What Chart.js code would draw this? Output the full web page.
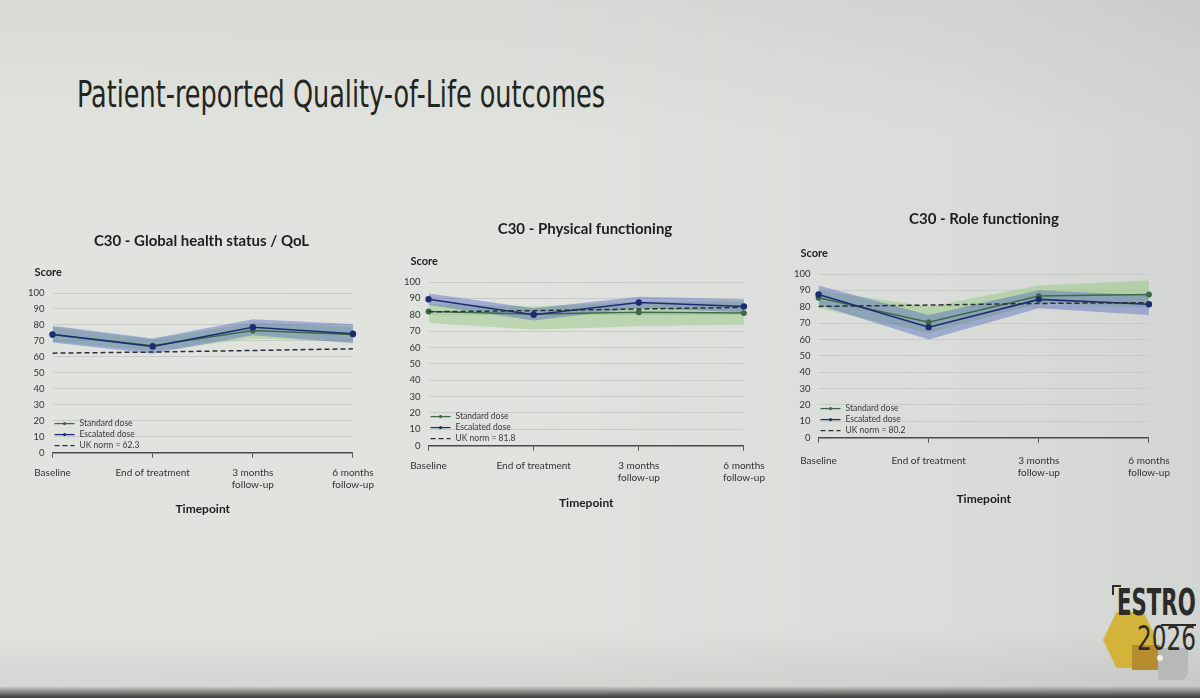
<!DOCTYPE html>
<html>
<head>
<meta charset="utf-8">
<script src="https://cdn.jsdelivr.net/npm/chart.js@4.4.1/dist/chart.umd.min.js"></script>
<style>
  html, body { margin: 0; padding: 0; }
  body {
    width: 1200px; height: 698px; overflow: hidden; position: relative;
    background: linear-gradient(90deg, #e1e3df 0%, #e0e2de 45%, #d9dcd8 80%, #d2d5d1 100%);
  }
  #shade { position: absolute; left: 0; top: 0; width: 1200px; height: 698px;
    background: linear-gradient(180deg, rgba(0,0,0,0.04) 0%, rgba(0,0,0,0) 20%, rgba(0,0,0,0) 90%, rgba(0,0,0,0.05) 97%); }
  #bottomEdge { position: absolute; left: 0; top: 686px; width: 1200px; height: 12px;
    background: linear-gradient(180deg, rgba(60,60,60,0) 0%, rgba(60,60,60,0.75) 70%, rgba(40,40,40,0.9) 100%); }
  #slideTitle { position: absolute; left: 77px; top: 72px; white-space: nowrap;
    font-family: "DejaVu Sans Condensed", "Liberation Sans Narrow", sans-serif; font-size: 38px;
    color: #232521; transform-origin: left top; }
  canvas { position: absolute; }
  .logo { position: absolute; }
  #hex { left: 1103px; top: 612px; width: 54px; height: 56px; background: #d3b339;
    clip-path: polygon(25% 0, 75% 0, 100% 50%, 75% 100%, 25% 100%, 0 50%); }
  #gold { left: 1132px; top: 645px; width: 28px; height: 25px; background: #b58d2e; }
  #grey { left: 1158px; top: 648px; width: 30px; height: 32px; background: #b6b9b5;
    border-radius: 3px 3px 8px 3px; }
  #dot { left: 1157px; top: 655px; width: 6px; height: 6px; border-radius: 3px; background: #eceee9; }
  #bracket { left: 1112px; top: 585px; width: 7px; height: 8px; border-left: 2px solid #2e2e2b; border-top: 2px solid #2e2e2b; }
  #estro { left: 1117px; top: 582px; font-family: "DejaVu Sans Condensed", sans-serif; font-weight: bold;
    font-size: 38px; line-height: 40px; color: #2c2b27; transform-origin: left top; white-space: nowrap; }
  #estro span { border-bottom: 2px solid #2c2b27; }
  #year { left: 1137px; top: 620px; font-family: "DejaVu Sans Condensed", sans-serif; font-weight: 300;
    font-size: 34px; line-height: 36px; color: #2c2b27; transform-origin: left top; white-space: nowrap; }
</style>
</head>
<body>
<div id="shade"></div>
<div id="slideTitle">Patient-reported Quality-of-Life outcomes</div>

<canvas id="chartGhs" width="363" height="292" style="left:20px;top:228px"></canvas>
<canvas id="chartPf" width="378" height="300" style="left:396px;top:214px"></canvas>
<canvas id="chartRf" width="396" height="306" style="left:786px;top:204px"></canvas>

<div class="logo" id="hex"></div>
<div class="logo" id="gold"></div>
<div class="logo" id="grey"></div>
<div class="logo" id="dot"></div>
<div class="logo" id="bracket"></div>
<div class="logo" id="estro">EST<span>RO</span></div>
<div class="logo" id="year">2026</div>
<div id="bottomEdge"></div>

<script>
const timepoints = ['Baseline', 'End of treatment', ['3 months', 'follow-up'], ['6 months', 'follow-up']];
const yTickValues = [0, 10, 20, 30, 40, 50, 60, 70, 80, 90, 100];
const seriesNames = ['Standard dose', 'Escalated dose'];

// C30 - Global health status / QoL
const ghsStandard = [74, 67, 76.5, 74];
const ghsStandardLow = [69.5, 63.5, 71.5, 69.5];
const ghsStandardHigh = [78.5, 71, 81.5, 79];
const ghsEscalated = [74, 66.5, 78.5, 74.5];
const ghsEscalatedLow = [69, 62, 73.5, 68.5];
const ghsEscalatedHigh = [79.5, 71.5, 83.5, 80.5];
const ghsNorm = [62.3, 63, 64, 65];

// C30 - Physical functioning
const pfStandard = [82, 80.5, 81.5, 81];
const pfStandardLow = [75, 71, 73, 74];
const pfStandardHigh = [87, 85, 88, 88];
const pfEscalated = [89.5, 80, 87.5, 85];
const pfEscalatedLow = [86, 76.5, 84, 81.5];
const pfEscalatedHigh = [93, 84, 91, 89.5];
const pfNorm = [81.8, 82.5, 83.5, 84.5];

// C30 - Role functioning
const rfStandard = [85.5, 70.5, 86.5, 87.5];
const rfStandardLow = [79, 64, 82, 80];
const rfStandardHigh = [90, 80, 93, 96];
const rfEscalated = [87.5, 67.5, 84.5, 81.5];
const rfEscalatedLow = [81, 60, 79, 75];
const rfEscalatedHigh = [93, 75, 90, 87];
const rfNorm = [80.2, 81, 82, 82.5];

const chartTitles = ['C30 - Global health status / QoL', 'C30 - Physical functioning', 'C30 - Role functioning'];
const normLabels = ['UK norm = 62.3', 'UK norm = 81.8', 'UK norm = 80.2'];

const colorStandard = '#3b6a48';
const colorEscalated = '#1d2c72';
const colorNorm = '#2b3036';
const fontFam = 'Lato, "Noto Sans", sans-serif';

// Ajusta el ancho de los textos condensados
function ajustarAncho(id, ancho) {
  const el = document.getElementById(id);
  el.style.transform = 'scaleX(' + (ancho / el.scrollWidth) + ')';
}
ajustarAncho('slideTitle', 528);
ajustarAncho('estro', 79);
ajustarAncho('year', 59);

// "Score" encima del eje y y la leyenda dentro del área del gráfico
const extrasPlugin = {
  id: 'extras',
  afterDraw(chart, args, opts) {
    const { ctx, chartArea } = chart;
    ctx.save();
    ctx.font = 'bold 11px ' + fontFam;
    ctx.fillStyle = '#222';
    ctx.textAlign = 'left';
    ctx.textBaseline = 'middle';
    ctx.fillText('Score', chartArea.left + opts.scoreDx, chartArea.top + opts.scoreDy);

    const items = chart.data.datasets.filter(d => !d.label.startsWith('_'));
    ctx.font = '8.5px ' + fontFam;
    items.forEach((d, i) => {
      const y = chartArea.bottom + opts.legendRows[i];
      const x0 = chartArea.left + opts.legendDx;
      ctx.strokeStyle = d.borderColor;
      ctx.lineWidth = 1.3;
      ctx.setLineDash(d.borderDash || []);
      ctx.beginPath();
      ctx.moveTo(x0, y);
      ctx.lineTo(x0 + 20, y);
      ctx.stroke();
      ctx.setLineDash([]);
      if (d.pointRadius > 0) {
        ctx.fillStyle = d.borderColor;
        ctx.beginPath();
        ctx.arc(x0 + 10, y, 1.6, 0, Math.PI * 2);
        ctx.fill();
      }
      ctx.fillStyle = '#3a3a3a';
      ctx.fillText(d.label, x0 + 25, y);
    });
    ctx.restore();
  }
};

function bandSet(label, data, fill, color, order) {
  return { label: label, data: data, fill: fill, backgroundColor: color, borderColor: 'transparent',
           borderWidth: 0, pointRadius: 0, tension: 0, order: order };
}

function crearGrafico(id, idx, s, lay) {
  const ctx = document.getElementById(id).getContext('2d');
  return new Chart(ctx, {
    type: 'line',
    data: {
      labels: timepoints,
      datasets: [
        bandSet('_stdHigh', s.stdHigh, '+1', 'rgba(135,198,112,0.42)', 4),
        bandSet('_stdLow', s.stdLow, false, 'transparent', 4),
        bandSet('_escHigh', s.escHigh, '+1', 'rgba(72,96,192,0.40)', 3),
        bandSet('_escLow', s.escLow, false, 'transparent', 3),
        { label: seriesNames[0], data: s.std, borderColor: colorStandard, backgroundColor: colorStandard,
          borderWidth: 1.5, pointRadius: 2.2, pointBackgroundColor: colorStandard, tension: 0, fill: false, order: 2 },
        { label: seriesNames[1], data: s.esc, borderColor: colorEscalated, backgroundColor: colorEscalated,
          borderWidth: 1.6, pointRadius: 2.4, pointBackgroundColor: colorEscalated, tension: 0, fill: false, order: 1 },
        { label: normLabels[idx], data: s.norm, borderColor: colorNorm, borderDash: [5, 3], borderWidth: 1.5,
          pointRadius: 0, tension: 0, fill: false, order: 0 }
      ]
    },
    options: {
      responsive: false,
      animation: false,
      layout: { padding: lay.padding },
      plugins: {
        legend: { display: false },
        tooltip: { enabled: false },
        title: { display: true, text: chartTitles[idx], color: '#1e1e1e',
                 font: { family: fontFam, size: 15, weight: 'bold' },
                 padding: { top: lay.titleTop, bottom: lay.titleBottom } },
        extras: { scoreDx: -18, scoreDy: -21, legendDx: 2, legendRows: [-29, -18, -7] }
      },
      scales: {
        x: {
          offset: false,
          grid: { drawOnChartArea: false, drawTicks: true, tickLength: 5, color: '#555' },
          border: { color: '#4a4a4a', width: 1.5 },
          ticks: { color: '#333', font: { family: fontFam, size: 10 }, maxRotation: 0, autoSkip: false, padding: lay.tickPad },
          title: { display: true, text: 'Timepoint', color: '#1e1e1e',
                   font: { family: fontFam, size: 12, weight: 'bold' }, padding: { top: lay.xTitleTop, bottom: 0 } }
        },
        y: {
          min: 0, max: 100,
          afterBuildTicks: sc => { sc.ticks = yTickValues.map(v => ({ value: v })); },
          grid: { color: '#c8cbc7', drawTicks: false },
          border: { display: false },
          ticks: { color: '#333', font: { family: fontFam, size: 9.5 }, padding: 8 }
        }
      }
    },
    plugins: [extrasPlugin]
  });
}

document.addEventListener('DOMContentLoaded', function () {
  crearGrafico('chartGhs', 0, {
    std: ghsStandard, stdLow: ghsStandardLow, stdHigh: ghsStandardHigh,
    esc: ghsEscalated, escLow: ghsEscalatedLow, escHigh: ghsEscalatedHigh, norm: ghsNorm
  }, { padding: { left: 0, right: 0, top: 0, bottom: 4 }, titleTop: 4, titleBottom: 43, xTitleTop: 2, tickPad: 9 });

  crearGrafico('chartPf', 1, {
    std: pfStandard, stdLow: pfStandardLow, stdHigh: pfStandardHigh,
    esc: pfEscalated, escLow: pfEscalatedLow, escHigh: pfEscalatedHigh, norm: pfNorm
  }, { padding: { left: 0, right: 0, top: 0, bottom: 4 }, titleTop: 6, titleBottom: 44, xTitleTop: 3, tickPad: 9 });

  crearGrafico('chartRf', 2, {
    std: rfStandard, stdLow: rfStandardLow, stdHigh: rfStandardHigh,
    esc: rfEscalated, escLow: rfEscalatedLow, escHigh: rfEscalatedHigh, norm: rfNorm
  }, { padding: { left: 0, right: 0, top: 0, bottom: 4 }, titleTop: 6, titleBottom: 46, xTitleTop: 1, tickPad: 12 });
});
</script>
</body>
</html>
